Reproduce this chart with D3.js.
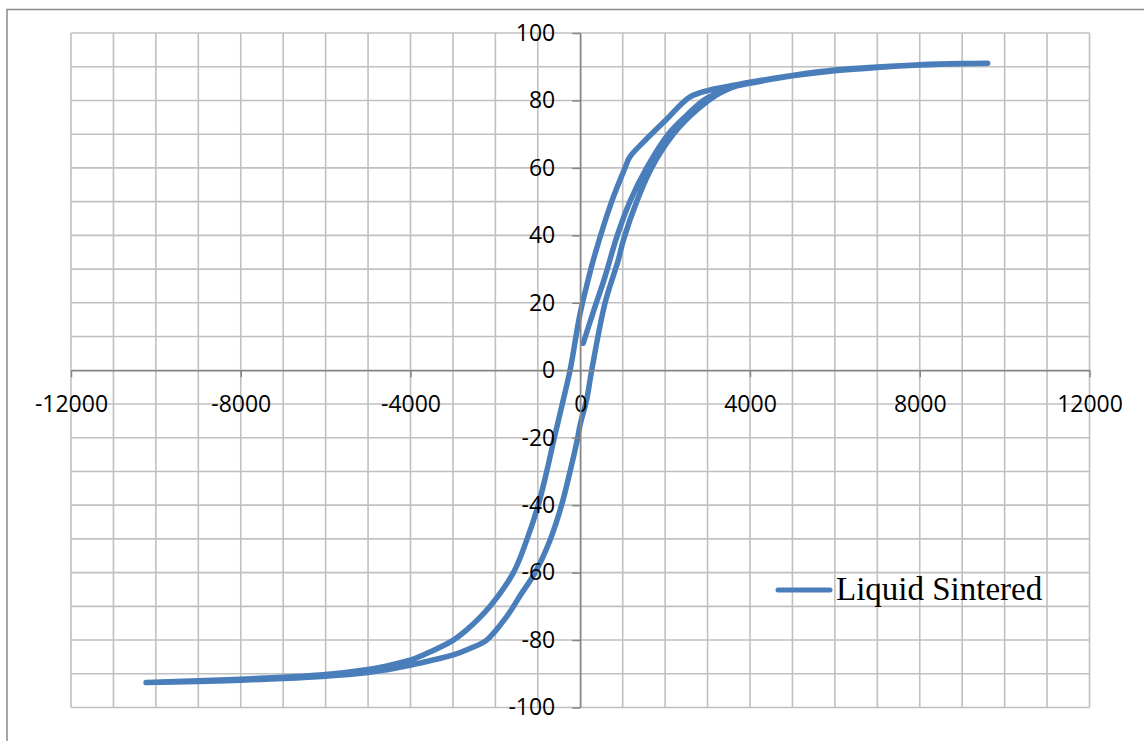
<!DOCTYPE html>
<html>
<head>
<meta charset="utf-8">
<script src="https://cdn.jsdelivr.net/npm/d3@7"></script>
<style>
  html, body { margin: 0; padding: 0; background: #fff; }
  svg { display: block; }
</style>
</head>
<body>
<svg id="chart" width="1144" height="741"></svg>
<script>
// Hysteresis loop: applied field H vs. magnetisation M
const seriesName = "Liquid Sintered";

// Initial magnetisation curve
const initialH = [70, 300, 590, 860, 1170, 1565, 2075, 2500, 2900, 3300, 3700, 4000, 5000, 6000, 7000, 8000, 9000, 9600];
const initialM = [8, 17, 28, 39.5, 50, 60, 70, 75.5, 80, 82.5, 84.4, 85.2, 87.3, 88.8, 89.8, 90.5, 90.9, 91.0];

// Descending branch (+H max to -H max)
const downH = [9600, 9000, 8000, 7000, 6000, 5000, 4000, 3500, 3020, 2580, 2000, 1500, 1170, 1055, 740, 308, 190, 0, -240, -400, -610, -790, -990, -1260, -1575, -2125, -2675, -2990, -3500, -3990, -4640, -5000, -6000, -7000, -8000, -9000, -10230];
const downM = [91.0, 90.95, 90.6, 89.9, 89.0, 87.4, 85.4, 84.2, 83.0, 81.0, 74.0, 67.8, 63.3, 60, 50, 32.7, 27, 17, 0, -8.8, -20, -30, -40, -50.3, -60, -70, -77, -80, -83.3, -85.9, -87.9, -88.7, -90.2, -91.0, -91.6, -92.1, -92.6];

// Ascending branch (-H max back to +H max)
const upH = [-10230, -9000, -8000, -7000, -6000, -5000, -4640, -3990, -3500, -2990, -2600, -2205, -1730, -1400, -1065, -710, -440, -240, -60, 0, 150, 270, 585, 897, 1015, 1330, 1680, 2195, 2600, 3020, 3300, 3690, 4000, 5000, 6000, 7000, 8000, 9000, 9600];
const upM = [-92.6, -92.3, -91.9, -91.4, -90.7, -89.6, -89.0, -87.4, -86.0, -84.4, -82.5, -80, -73, -66.5, -60, -50.3, -40, -30, -20, -16, -8.8, 0, 20, 32.7, 38.5, 50, 60, 70, 75.5, 80, 82.3, 84.3, 85.1, 87.3, 88.8, 89.8, 90.5, 90.9, 91.0];

// Axis ticks
const xTickLabels = [-12000, -8000, -4000, 0, 4000, 8000, 12000];
const yTickLabels = [-100, -80, -60, -40, -20, 0, 20, 40, 60, 80, 100];
const xGrid = d3.range(-12000, 12001, 1000);
const yGrid = d3.range(-100, 101, 10);

const points = [];
initialH.forEach((h, i) => points.push([h, initialM[i]]));
downH.forEach((h, i) => points.push([h, downM[i]]));
upH.forEach((h, i) => points.push([h, upM[i]]));

const svg = d3.select("#chart");
const W = 1144, H = 741;

const x = d3.scaleLinear().domain([-12000, 12000]).range([71, 1089.5]);
const y = d3.scaleLinear().domain([-100, 100]).range([707.5, 33]);

const lineColor = "#4a7ebb";
const gridColor = "#c0c0c0";
const axisColor = "#868686";
const labelFont = "'Open Sans', 'Noto Sans', sans-serif";

// Chart frame
svg.append("rect")
  .attr("x", 7).attr("y", 9.5)
  .attr("width", W + 20).attr("height", H + 20)
  .attr("fill", "#fff")
  .attr("stroke", "#898989").attr("stroke-width", 1.5);

// Gridlines
const grid = svg.append("g");
grid.selectAll("line.v").data(xGrid).join("line")
  .attr("x1", d => x(d)).attr("x2", d => x(d))
  .attr("y1", y(100)).attr("y2", y(-100))
  .attr("stroke", gridColor).attr("stroke-width", 1.6);
grid.selectAll("line.h").data(yGrid).join("line")
  .attr("y1", d => y(d)).attr("y2", d => y(d))
  .attr("x1", x(-12000)).attr("x2", x(12000))
  .attr("stroke", gridColor).attr("stroke-width", 1.6);

// Axes crossing at the origin
const yAxis = svg.append("g")
  .attr("transform", `translate(${x(0)},0)`)
  .call(d3.axisLeft(y).tickValues(yTickLabels).tickSize(8).tickSizeOuter(0).tickPadding(17).tickFormat(d3.format("d")));
const xAxis = svg.append("g")
  .attr("transform", `translate(0,${y(0)})`)
  .call(d3.axisBottom(x).tickValues(xTickLabels).tickSize(7).tickSizeOuter(0).tickPadding(18).tickFormat(d3.format("d")));

[xAxis, yAxis].forEach(a => {
  a.select(".domain").attr("stroke", axisColor).attr("stroke-width", 1.5);
  a.selectAll(".tick line").attr("stroke", axisColor).attr("stroke-width", 1.5);
  a.selectAll(".tick text")
    .attr("fill", "#000")
    .style("font-family", labelFont)
    .style("font-size", "23px");
});
// Format negative numbers with a plain hyphen
svg.selectAll(".tick text").text(function () { return this.textContent.replace("\u2212", "-"); });

// Series line (smoothed)
const line = d3.line().x(d => x(d[0])).y(d => y(d[1])).curve(d3.curveCatmullRom.alpha(0.5));
svg.append("path")
  .datum(points)
  .attr("d", line)
  .attr("fill", "none")
  .attr("stroke", lineColor)
  .attr("stroke-width", 5.5)
  .attr("stroke-linejoin", "round")
  .attr("stroke-linecap", "round");

// Keep tick labels above the series
xAxis.raise();
yAxis.raise();
xAxis.select(".domain").lower();
yAxis.select(".domain").lower();

// Legend
const legend = svg.append("g").attr("transform", "translate(778,590)");
legend.append("line")
  .attr("x1", 0).attr("x2", 52).attr("y1", 0).attr("y2", 0)
  .attr("stroke", lineColor).attr("stroke-width", 5).attr("stroke-linecap", "round");
legend.append("text")
  .attr("x", 58).attr("y", 10)
  .attr("fill", "#000")
  .style("font-family", "'Liberation Serif', 'DejaVu Serif', serif")
  .style("font-size", "33px")
  .text(seriesName);
</script>
</body>
</html>
